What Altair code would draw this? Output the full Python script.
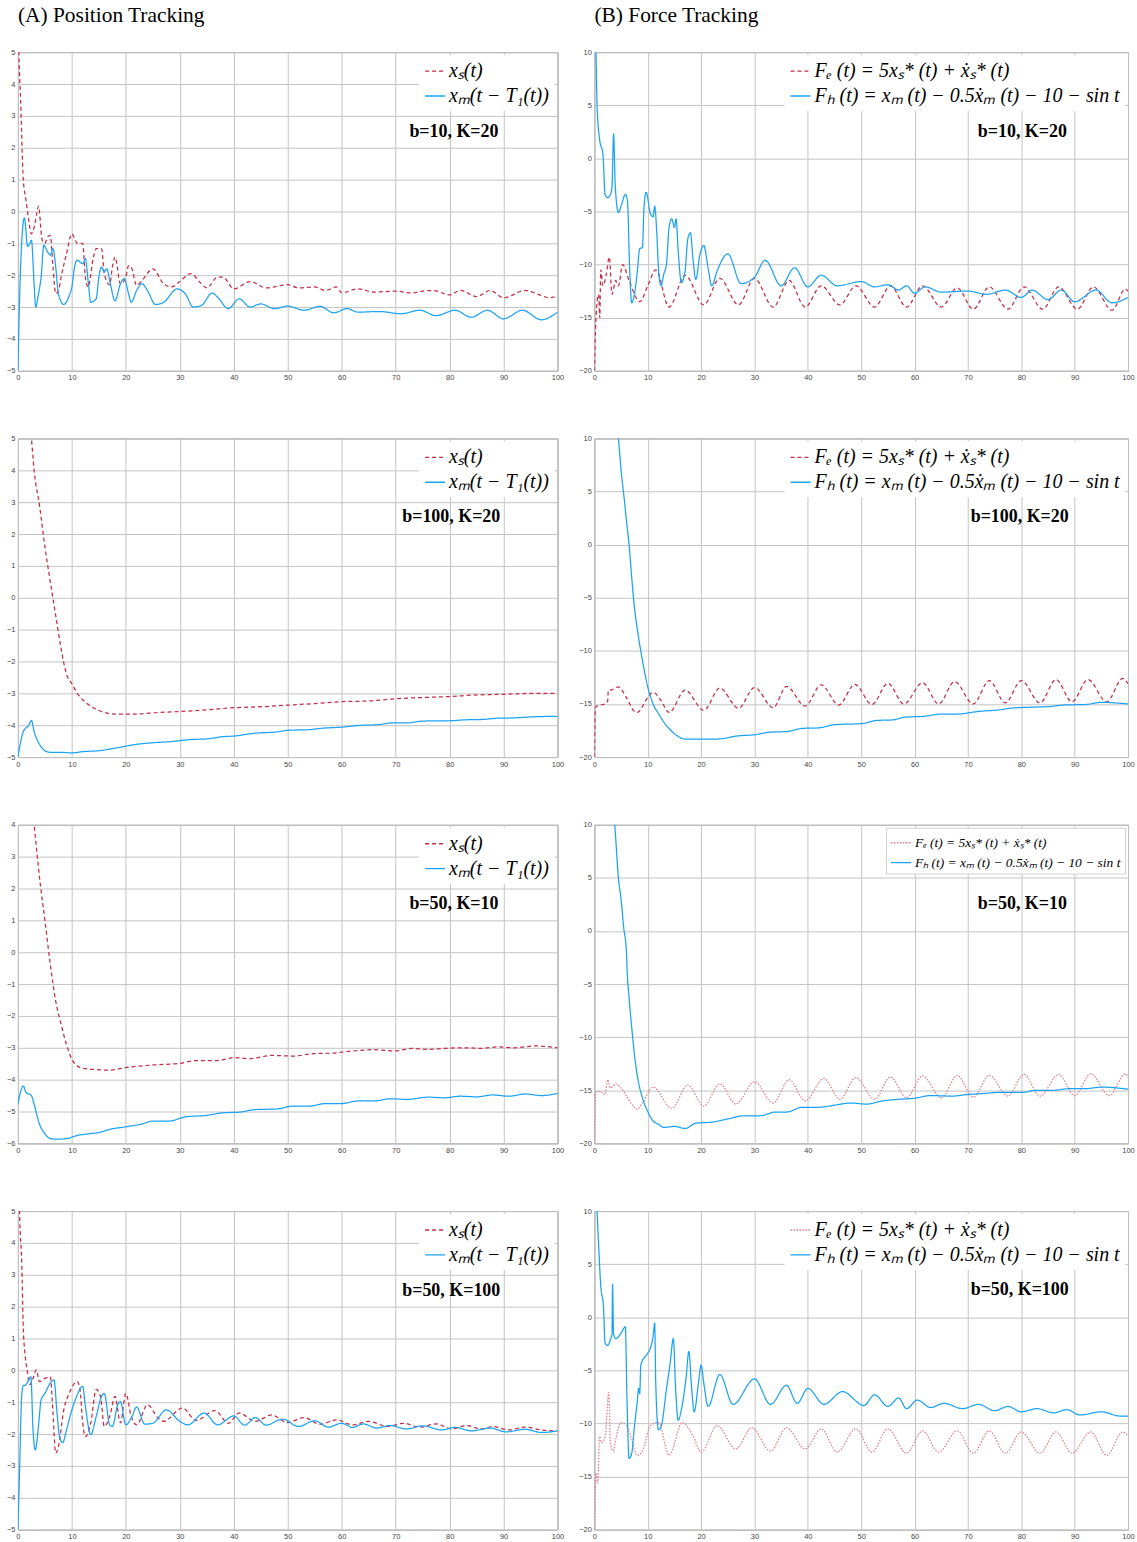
import altair as alt
import pandas as pd

RED = "#C42B45"
PINK = "#E27A8C"
BLUE = "#1AA3F5"

X_TICKS = list(range(0, 101, 10))
A_YTICKS = list(range(-5, 6))
A3_YTICKS = list(range(-6, 5))
B_YTICKS = [-20, -15, -10, -5, 0, 5, 10]

A_LABELS = ["xₛ(t)", "xₘ(t − T₁(t))"]
B_LABELS = ["Fₑ (t) = 5xₛ* (t) + ẋₛ* (t)", "Fₕ (t) = xₘ (t) − 0.5ẋₘ (t) − 10 − sin t"]

# ---------------- Row 1: b=10, K=20 ----------------
A1_XS = [(0, 7), (0.15, 5.3), (0.5, 3.5), (1, 1.0), (1.5, 0.35), (2, -0.27), (2.5, -0.7), (3, -0.5),
         (3.5, -0.05), (3.8, 0.17), (4.5, -0.9), (5, -1.0), (5.5, -0.8), (6, -0.75), (6.5, -1.74),
         (7, -2.58), (7.5, -2.5), (8, -2.06), (9, -1.33), (10, -0.7), (11, -1.0), (12, -1.0),
         (12.5, -2.06), (13, -2.37), (14, -1.43), (14.5, -1.17), (15.5, -1.17), (16, -1.95),
         (17, -2.3), (17.5, -1.75), (18, -1.43), (19, -2.27), (20, -2.06), (20.5, -1.7), (21, -1.75),
         (22, -2.32), (23, -2.16), (25, -1.8), (27, -2.27), (28.5, -2.37), (30, -2.2), (32, -1.95),
         (34, -2.27), (35, -2.4), (37, -2.06), (38, -2.06), (40, -2.43), (43, -2.2), (46, -2.4),
         (50, -2.3), (52, -2.4), (55, -2.37), (57, -2.48), (59, -2.37), (60, -2.55), (63, -2.43),
         (66, -2.53), (70, -2.5), (73, -2.56), (75, -2.5), (77, -2.48), (80, -2.62), (82, -2.48),
         (85, -2.67), (87.5, -2.48), (90, -2.71), (94, -2.48), (97, -2.64), (98.5, -2.71), (100, -2.64)]
A1_XM = [(0, -5), (0.5, -1.7), (1.2, -0.2), (1.8, -1.1), (2.2, -1.0), (2.5, -0.9), (3, -2.27),
         (3.3, -3.0), (3.8, -2.6), (4.3, -2.06), (4.8, -1.06), (5.5, -1.27), (6, -1.37), (6.5, -1.17),
         (7, -1.74), (7.5, -2.58), (8.5, -2.92), (9.5, -2.64), (10, -2.37), (10.5, -1.74), (11, -1.53),
         (12, -1.64), (12.5, -1.48), (13, -2.16), (13.5, -2.85), (14.5, -2.74), (15, -2.06),
         (15.5, -1.74), (16, -1.9), (16.5, -1.8), (17, -2.16), (18, -2.8), (19, -2.27), (19.7, -2.11),
         (20.5, -2.58), (21, -2.85), (22, -2.48), (23, -2.27), (24, -2.48), (25.5, -2.92), (27, -2.85),
         (29.5, -2.43), (31, -2.58), (32.5, -3.0), (34, -2.95), (36, -2.56), (37, -2.69), (39, -3.05),
         (41, -2.74), (43, -3.0), (45, -2.9), (47.5, -3.05), (50, -2.97), (53, -3.1), (56, -2.98),
         (58.5, -3.18), (61, -3.05), (63, -3.16), (67, -3.14), (71, -3.21), (74.5, -3.1), (77.5, -3.27),
         (81, -3.1), (84, -3.32), (87, -3.1), (90, -3.37), (93.5, -3.1), (97, -3.4), (100, -3.16)]
B1_FE = [(0, -20), (0.3, -15), (0.8, -12.8), (1.0, -15), (1.2, -10.5), (1.6, -12), (2.2, -11),
         (2.8, -9.3), (3.3, -12.8), (4, -11.5), (4.5, -12), (5.3, -10), (6.5, -11.5), (8.5, -13.5),
         (10, -12), (11.5, -10.5), (14, -14), (17, -11), (20.5, -13.8), (23.5, -11.3), (27, -13.8),
         (30, -11.3), (33.5, -14), (36.5, -11.5), (39.5, -14), (42.5, -12), (46, -13.8), (49, -12),
         (52.5, -14), (55.5, -12), (58.5, -14), (61.5, -12), (65, -14), (68, -12.2), (71, -14.2),
         (74, -12.1), (77.5, -14.2), (80.5, -12.1), (84, -14.2), (87, -12.1), (90.5, -14.2),
         (93.5, -12.1), (97, -14.3), (99.5, -12.3), (100, -12.5)]
B1_FH = [(0.1, 13), (0.3, 10), (0.5, 5), (1, 1.7), (1.6, 0.4), (2, -3.4), (2.5, -3.7), (3, -3.4),
         (3.3, -2.7), (3.6, 2.3), (3.9, -2.5), (4.5, -5.1), (5, -4.5), (5.8, -3.4), (6.2, -4),
         (6.6, -10.3), (7, -13.6), (7.5, -12.8), (8, -10.9), (8.5, -8.5), (9, -8.4), (9.3, -4.6),
         (9.7, -3.2), (10.5, -5.2), (11, -5.5), (11.3, -4.5), (11.7, -7.1), (12, -10.3), (12.5, -12),
         (13, -10.9), (13.5, -10), (14, -6.5), (14.5, -5.7), (15, -6.5), (15.3, -5.7), (15.7, -8.7),
         (16.3, -11.7), (17, -10.6), (17.5, -7.6), (18, -7), (18.5, -9.6), (19, -11.4), (19.8, -9),
         (20.5, -8.2), (21.3, -10.3), (22, -12), (23, -10.6), (25, -9), (27.5, -11.8), (30, -11.2),
         (32, -9.6), (35, -12), (37.5, -10.3), (40, -12.1), (42.5, -11), (45.5, -12), (50, -11.6),
         (52.5, -12.1), (55, -11.9), (57, -12.4), (58.5, -12), (60, -12.7), (62, -12.1), (65, -12.6),
         (70, -12.5), (73.5, -12.8), (77, -12.4), (80, -13.1), (82, -12.4), (85, -13.3), (87.5, -12.4),
         (90, -13.5), (94, -12.4), (97, -13.6), (100, -13.1)]

# ---------------- Row 2: b=100, K=20 ----------------
A2_XS = [(2.0, 5.8), (2.5, 5.0), (3, 4.0), (4, 2.9), (5, 1.6), (6, 0.5), (7, -0.55), (8, -1.6),
         (9, -2.4), (10, -2.7), (11, -3.0), (12, -3.2), (14, -3.45), (16, -3.6), (18, -3.65),
         (22, -3.65), (26, -3.6), (30, -3.57), (35, -3.52), (40, -3.45), (45, -3.42), (50, -3.37),
         (55, -3.32), (60, -3.26), (65, -3.24), (70, -3.17), (75, -3.13), (80, -3.1), (85, -3.05),
         (90, -3.03), (95, -3.0), (100, -3.0)]
A2_XM = [(0, -5), (1, -4.2), (2, -4.0), (2.5, -3.85), (3, -4.2), (4, -4.6), (5, -4.8), (6, -4.85),
         (8, -4.85), (10, -4.87), (12, -4.83), (15, -4.8), (18, -4.72), (22, -4.6), (25, -4.55),
         (28, -4.52), (32, -4.45), (35, -4.43), (38, -4.36), (40, -4.34), (44, -4.25), (48, -4.21),
         (50, -4.16), (54, -4.14), (56, -4.1), (60, -4.06), (63, -4.01), (67, -3.98), (69, -3.93),
         (72, -3.93), (75, -3.87), (80, -3.86), (83, -3.83), (86, -3.82), (89, -3.78), (92, -3.77),
         (95, -3.74), (100, -3.72)]
B2_FE = [(0, -20), (0.2, -15.3), (1, -15.1), (2, -15.0), (2.5, -14.7), (2.6, -13.7), (3, -13.7),
         (4.5, -13.4), (6, -14.4), (7.5, -15.7), (8, -15.8), (10, -14.4), (11, -13.9), (12.5, -14.7),
         (14, -15.8), (17, -13.7), (20.5, -15.6), (23.5, -13.5), (27, -15.4), (30, -13.45),
         (33.5, -15.35), (36, -13.35), (39.5, -15.2), (42.5, -13.2), (45.8, -15.1), (48.8, -13.15),
         (52, -15.05), (55, -13.05), (58, -15), (61.5, -13), (64.5, -15), (67.5, -12.9), (71, -15),
         (74, -12.8), (77, -14.9), (80, -12.8), (83.5, -14.9), (86.5, -12.7), (89.5, -14.8),
         (92.5, -12.7), (96, -14.8), (99, -12.6), (100, -13.1)]
B2_FH = [(4.0, 12), (4.5, 10), (5, 7), (5.7, 3.8), (6, 2.3), (6.5, 0), (7, -3.1), (7.5, -5.9),
         (8, -7.8), (9, -10.9), (10, -13.4), (11, -15), (12, -15.9), (13, -16.7), (15, -17.8),
         (17, -18.3), (20, -18.3), (23, -18.3), (27, -18.0), (30, -17.9), (33, -17.65), (36, -17.6),
         (39, -17.3), (42, -17.25), (45, -16.95), (50, -16.85), (53, -16.55), (56, -16.5), (58, -16.25),
         (62, -16.15), (65, -15.95), (68, -15.95), (72, -15.7), (76, -15.55), (78, -15.4), (82, -15.3),
         (85, -15.25), (88, -15.1), (92, -15.05), (95, -14.85), (100, -15.0)]

# ---------------- Row 3: b=50, K=10 ----------------
A3_XS = [(2.5, 4.8), (3, 4.0), (4, 2.35), (5, 1.0), (6, -0.38), (7, -1.53), (8, -2.26), (9, -2.9),
         (10, -3.36), (11, -3.57), (12, -3.64), (14, -3.68), (17, -3.7), (20, -3.62), (25, -3.54),
         (30, -3.49), (33, -3.4), (37, -3.4), (40, -3.31), (43, -3.34), (47, -3.24), (51, -3.26),
         (55, -3.18), (58, -3.17), (62, -3.1), (66, -3.06), (70, -3.1), (73, -3.02), (76, -3.05),
         (79, -3.02), (83, -3.0), (86, -3.02), (89, -2.97), (92, -3.0), (96, -2.94), (100, -3.0)]
A3_XM = [(0, -4.77), (1, -4.2), (1.5, -4.4), (2.5, -4.5), (3, -4.77), (4, -5.4), (5, -5.7),
         (6, -5.85), (7, -5.87), (9, -5.85), (11, -5.75), (13, -5.7), (15, -5.66), (17, -5.56),
         (20, -5.48), (23, -5.39), (25, -5.3), (28, -5.3), (31, -5.17), (35, -5.12), (38, -5.04),
         (41, -5.02), (44, -4.94), (48, -4.92), (51, -4.83), (54, -4.83), (57, -4.75), (60, -4.75),
         (63, -4.67), (66, -4.67), (69, -4.6), (72, -4.62), (76, -4.55), (79, -4.57), (82, -4.52),
         (85, -4.54), (88, -4.48), (91, -4.52), (94, -4.45), (97, -4.5), (100, -4.43)]
B3_FE = [(0, -20), (0.2, -15.2), (1, -15.1), (2, -15.4), (2.5, -14), (3, -14.8), (4, -14.4),
         (5, -14.8), (7, -16.3), (8, -16.8), (9, -16.2), (11, -14.7), (14.5, -16.7), (17.5, -14.5),
         (20.5, -16.5), (23.5, -14.4), (26.5, -16.3), (30, -14.2), (33.5, -16.2), (36.5, -14),
         (39.5, -16.0), (43, -13.9), (46, -15.85), (49, -13.8), (52.5, -15.85), (55.5, -13.75),
         (58.5, -15.7), (61.5, -13.65), (65, -15.7), (68, -13.6), (71, -15.65), (74, -13.6),
         (77.5, -15.55), (80.5, -13.5), (83.5, -15.55), (87, -13.5), (90, -15.5), (93, -13.45),
         (96.5, -15.5), (99.5, -13.45), (100, -13.8)]
B3_FH = [(3.3, 12), (3.8, 10), (4.5, 5), (5, 3), (5.5, 0.3), (6, -1.9), (6.1, -3.3), (6.5, -6.3),
         (7, -9.1), (7.5, -11.6), (8, -13.5), (9, -15.7), (10, -17), (11, -17.9), (12, -18.2),
         (13, -18.5), (15, -18.4), (17, -18.6), (19, -18.1), (22, -18.0), (25, -17.7), (28, -17.4),
         (31, -17.4), (34, -17.05), (36, -17.05), (39, -16.6), (42, -16.6), (45, -16.4), (48, -16.2),
         (51, -16.3), (54, -16), (57, -15.85), (60, -15.75), (63, -15.5), (67, -15.55), (70, -15.4),
         (73, -15.3), (76, -15.2), (80, -15.2), (83, -15), (86, -15), (89, -14.85), (92, -14.85),
         (95, -14.7), (100, -14.9)]

# ---------------- Row 4: b=50, K=100 ----------------
A4_XS = [(0.1, 7), (0.3, 5), (0.7, 3.4), (1, 1.3), (1.3, 0.54), (1.7, 0.02), (2.2, -0.45),
         (2.8, -0.25), (3.4, 0.02), (4, -0.35), (5, -0.25), (6, -0.2), (6.5, -1.35), (7, -2.6),
         (7.5, -2.4), (8.5, -1.24), (9.5, -0.72), (11, -0.35), (11.5, -0.6), (12, -1.65), (12.5, -2.08),
         (13.5, -1.65), (14.5, -0.6), (15.3, -0.82), (16, -1.76), (17, -1.45), (18, -0.82), (19, -1.65),
         (20, -0.72), (21, -1.45), (22, -1.71), (24, -1.08), (26, -1.5), (27, -1.6), (30.5, -1.18),
         (33, -1.57), (36.5, -1.26), (39, -1.66), (41, -1.34), (44, -1.6), (47, -1.4), (50, -1.64),
         (53, -1.48), (56, -1.69), (59, -1.55), (62, -1.71), (65, -1.6), (68.5, -1.76), (71.5, -1.66),
         (74.5, -1.78), (77.5, -1.68), (80.5, -1.84), (83, -1.73), (86, -1.84), (88, -1.76), (91, -1.87),
         (94, -1.78), (97, -1.87), (100, -1.9)]
A4_XM = [(0, -5), (0.3, -3.2), (0.7, -0.8), (1, -0.47), (1.3, -0.47), (2, -0.3), (2.4, -0.2),
         (2.8, -1.87), (3.2, -2.5), (3.8, -1.76), (4.3, -0.92), (5, -0.72), (6, -0.4), (6.7, -0.3),
         (7.2, -1.24), (7.7, -2.08), (8.3, -2.27), (9, -1.87), (10, -1.24), (11, -0.77), (12, -0.5),
         (12.5, -1.13), (13.5, -2.02), (14.5, -1.45), (15.5, -0.82), (16, -0.72), (17, -1.71),
         (17.5, -1.76), (18.5, -1.08), (19, -0.98), (20, -1.71), (21, -1.5), (22, -1.15), (23.5, -1.69),
         (25, -1.66), (27.5, -1.24), (30, -1.6), (31.5, -1.71), (34.5, -1.34), (37, -1.71), (40, -1.43),
         (42, -1.72), (44, -1.48), (46, -1.72), (49, -1.53), (52, -1.76), (55, -1.58), (57.5, -1.78),
         (60, -1.66), (62, -1.79), (64, -1.68), (66.5, -1.81), (69, -1.73), (72, -1.84), (75, -1.74),
         (78.5, -1.87), (81, -1.79), (84, -1.9), (87.5, -1.81), (90.5, -1.93), (94, -1.85), (97, -1.95),
         (100, -1.9)]
B4_FE = [(0, -20), (0.3, -14.7), (0.6, -15.6), (1, -11.2), (1.3, -11.8), (2, -11.3), (2.7, -7.1),
         (3, -11.8), (3.5, -12.6), (4, -11.5), (5, -9.9), (6, -10.2), (7, -11.5), (8, -13.0),
         (9, -12.6), (10.5, -10.2), (12, -9.9), (14, -13.0), (16.5, -9.9), (18.5, -11.2), (20, -12.7),
         (23, -10.2), (26.5, -12.4), (29.5, -10.4), (33, -12.6), (36, -10.4), (39.5, -12.4),
         (42.5, -10.5), (45.5, -12.7), (49, -10.5), (52, -12.7), (55, -10.5), (58.5, -12.8),
         (61.5, -10.7), (64.5, -12.7), (68, -10.7), (71, -12.8), (74, -10.7), (77, -12.8), (80, -10.8),
         (83.5, -12.8), (86.5, -10.8), (89.5, -12.8), (93, -10.8), (96, -13.0), (99, -10.8), (100, -11.2)]
B4_FH = [(0.2, 13), (0.5, 10), (0.8, 6.7), (1.2, 2.9), (1.7, 1.0), (2, -2.4), (2.5, -2.65), (3, -2.1),
         (3.3, -1.6), (3.4, 3.1), (3.6, -1.6), (4, -2.0), (5, -1.5), (5.8, -0.9), (6.1, -7.5),
         (6.5, -13.3), (7, -12.8), (7.5, -10.3), (8, -8.1), (8.3, -6.7), (8.5, -7.2), (8.7, -4.5),
         (9.5, -3.7), (10, -3.4), (11, -1.8), (11.3, -0.55), (11.5, -6.2), (12, -10.6), (12.5, -10.3),
         (13.5, -6.8), (14.2, -4.3), (14.8, -2.0), (15.2, -6.5), (15.7, -9.7), (16.3, -8.7),
         (17.2, -5.6), (17.7, -3.2), (18.2, -6.5), (18.7, -8.9), (19.5, -6.2), (20, -4.5), (20.5, -6.2),
         (21.3, -8.4), (23.5, -5.4), (26, -8.2), (30, -5.8), (33, -8.2), (36, -6.4), (38, -8.1),
         (40, -6.7), (43, -8.2), (46.5, -7.0), (50.5, -8.3), (52.5, -7.3), (55, -8.4), (57, -7.6),
         (58.5, -8.6), (60.5, -7.8), (63, -8.5), (65.5, -8.1), (69, -8.6), (72, -8.2), (75, -8.8),
         (77.5, -8.4), (80, -8.9), (83, -8.6), (86, -9.0), (88.5, -8.7), (91, -9.2), (95, -8.9),
         (98.5, -9.3), (100, -9.3)]

NOTES = {
    "A1": ("b=10, K=20", 80.8, 2.5), "B1": ("b=10, K=20", 80.2, 2.5),
    "A2": ("b=100, K=20", 80.3, 2.53), "B2": ("b=100, K=20", 79.7, 2.57),
    "A3": ("b=50, K=10", 80.8, 1.5), "B3": ("b=50, K=10", 80.2, 2.57),
    "A4": ("b=50, K=100", 80.3, 2.5), "B4": ("b=50, K=100", 79.7, 2.57),
}


def legend_cfg(size, row_pad, pad, sym_len, border=None):
    kw = dict(
        orient="top-right", title=None, fillColor="white", padding=pad, offset=3,
        labelFont="Liberation Serif", labelFontStyle="italic", labelFontSize=size,
        labelColor="black", labelLimit=600, symbolType="stroke",
        symbolSize=int(sym_len ** 2), symbolStrokeWidth=1.4, rowPadding=row_pad,
        labelOffset=3,
    )
    if border is not None:
        kw["strokeColor"] = border
    return alt.Legend(**kw)


def panel(red_pts, blue_pts, labels, ydom, yticks, note_key, red_col, red_dash,
          leg, width, title=None):
    rows = [{"t": t, "v": v, "s": labels[0]} for t, v in red_pts]
    rows += [{"t": t, "v": v, "s": labels[1]} for t, v in blue_pts]
    df = pd.DataFrame(rows)
    x = alt.X("t:Q", scale=alt.Scale(domain=[0, 100], nice=False, zero=False),
              axis=alt.Axis(values=X_TICKS, title=None, labelOverlap=False))
    y = alt.Y("v:Q", scale=alt.Scale(domain=ydom, nice=False, zero=False),
              axis=alt.Axis(values=yticks, title=None, labelOverlap=False,
                            tickCount=len(yticks)))
    lines = alt.Chart(df).mark_line(clip=True, strokeWidth=1.25, interpolate="monotone").encode(
        x=x, y=y,
        color=alt.Color("s:N", scale=alt.Scale(domain=labels, range=[red_col, BLUE]), legend=leg),
        strokeDash=alt.StrokeDash("s:N", scale=alt.Scale(domain=labels, range=[red_dash, [1, 0]]),
                                  legend=leg),
    )
    label, nt, nv = NOTES[note_key]
    ndf = pd.DataFrame([{"t": nt, "v": nv, "label": label}])
    text = alt.Chart(ndf).mark_text(font="Liberation Serif", fontWeight="bold", fontSize=18,
                                    color="black").encode(x=x, y=y, text="label:N")
    props = dict(width=width, height=320)
    if title is not None:
        props["title"] = alt.TitleParams(title, anchor="start", frame="group",
                                         font="Liberation Serif", fontSize=21.5,
                                         fontWeight="normal", color="black", offset=22)
    return alt.layer(lines, text).properties(**props)


DASH = [4, 3]
DOT = [1.5, 1.5]
LEG_A = legend_cfg(20, 4, 5, 20)
LEG_B = legend_cfg(20, 4, 5, 20)
LEG_B_SMALL = legend_cfg(13.5, 2, 4, 20, border="#d0d0d0")

WL, WR = 542, 536
HS = 13

r1 = alt.hconcat(
    panel(A1_XS, A1_XM, A_LABELS, [-5, 5], A_YTICKS, "A1", RED, DASH, LEG_A, WL, "(A) Position Tracking"),
    panel(B1_FE, B1_FH, B_LABELS, [-20, 10], B_YTICKS, "B1", RED, DASH, LEG_B, WR, "(B) Force Tracking"),
    spacing=HS,
).resolve_scale(color="independent", strokeDash="independent")
r2 = alt.hconcat(
    panel(A2_XS, A2_XM, A_LABELS, [-5, 5], A_YTICKS, "A2", RED, DASH, LEG_A, WL),
    panel(B2_FE, B2_FH, B_LABELS, [-20, 10], B_YTICKS, "B2", RED, DASH, LEG_B, WR),
    spacing=HS,
).resolve_scale(color="independent", strokeDash="independent")
r3 = alt.hconcat(
    panel(A3_XS, A3_XM, A_LABELS, [-6, 4], A3_YTICKS, "A3", RED, DASH, LEG_A, WL),
    panel(B3_FE, B3_FH, B_LABELS, [-20, 10], B_YTICKS, "B3", PINK, DOT, LEG_B_SMALL, WR),
    spacing=HS,
).resolve_scale(color="independent", strokeDash="independent")
r4 = alt.hconcat(
    panel(A4_XS, A4_XM, A_LABELS, [-5, 5], A_YTICKS, "A4", RED, DASH, LEG_A, WL),
    panel(B4_FE, B4_FH, B_LABELS, [-20, 10], B_YTICKS, "B4", PINK, DOT, LEG_B, WR),
    spacing=HS,
).resolve_scale(color="independent", strokeDash="independent")

chart = alt.vconcat(r1, r2, r3, r4, spacing=52).resolve_scale(
    color="independent", strokeDash="independent"
).properties(
    padding={"left": 5, "top": 1, "right": 2, "bottom": 1}
).configure_view(
    stroke="#8c8c8c", strokeWidth=1
).configure_axis(
    grid=True, gridColor="#c4c4c4", gridWidth=1, domain=False, ticks=False,
    labelFont="Liberation Sans", labelFontSize=7.5, labelColor="#444", labelPadding=3,
    labelFlush=False, labelOverlap=False,
)

chart.save("out.html", embed_options={"renderer": "svg", "actions": False})
